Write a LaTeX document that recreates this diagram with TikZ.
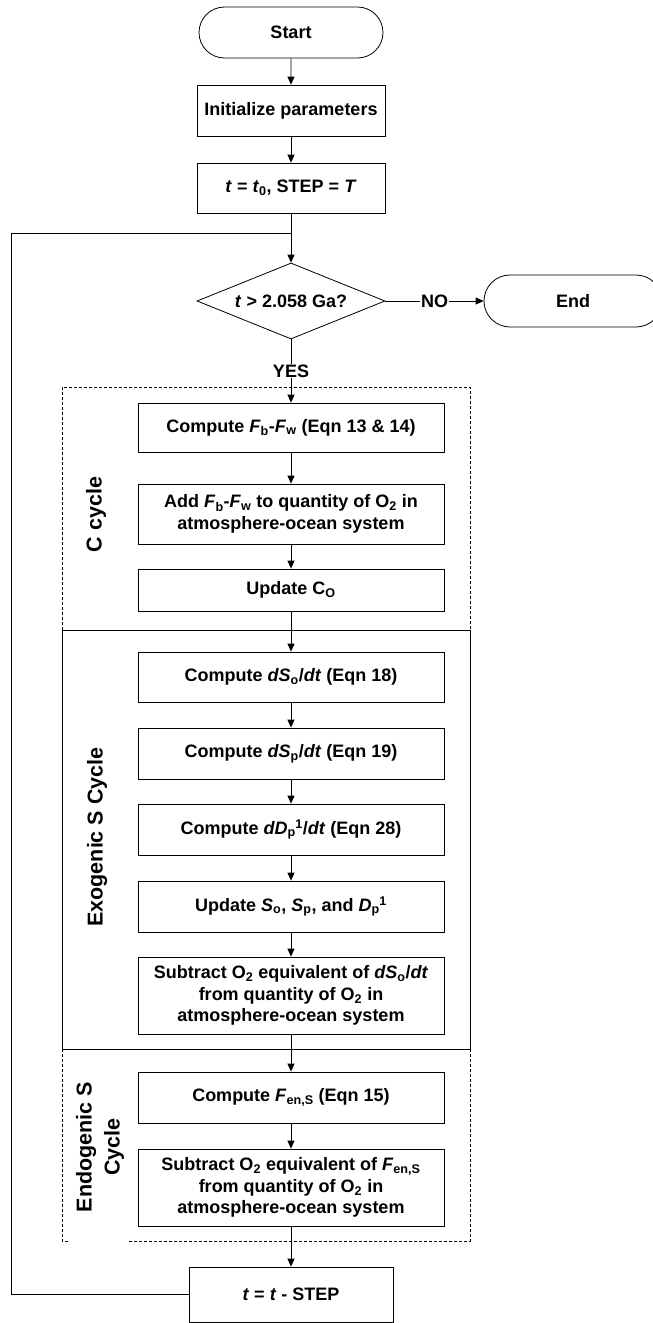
\documentclass[tikz,border=0pt]{standalone}
\usepackage{fontspec}
\setmainfont{Liberation Sans}
\usetikzlibrary{shapes.geometric,shapes.misc,arrows.meta}
\newcommand\sbs[1]{\textsubscript{#1}}
\newcommand\ital[1]{\textit{#1}}
\newcommand\subsup[2]{\textsubscript{#1}\kern-0.5pt\textsuperscript{#2}}

\tikzset{
  base/.style={draw=black, line width=0.8pt, fill=white, inner sep=2pt, align=center,
    font=\fontsize{18}{21.5}\selectfont\bfseries},
  term/.style={base, rounded rectangle, minimum width=188pt, minimum height=51pt},
  proc/.style={base, rectangle, minimum width=188pt},
  wide/.style={base, rectangle, minimum width=306pt},
  decision/.style={base, diamond, aspect=2.47, minimum width=188pt, minimum height=76pt, inner sep=0pt},
  arr/.style={line width=0.8pt, -{Triangle[length=8pt,width=7pt]}},
  conn/.style={line width=0.8pt},
  frame/.style={line width=0.7pt},
  dframe/.style={line width=0.7pt, dash pattern=on 3pt off 2pt},
  lbl/.style={fill=white, inner sep=1pt, font=\fontsize{18}{21.5}\selectfont\bfseries},
  cyc/.style={rotate=90, align=center, font=\fontsize{21.5}{28}\selectfont\bfseries},
}

\begin{document}
\begin{tikzpicture}[x=1pt, y=-1pt]
\useasboundingbox (0,0) rectangle (653,1323);

% group frames
\draw[dframe] (62,630) -- (62,387) -- (470,387) -- (470,630);
\draw[frame] (62,630) rectangle (470,1049);
\draw[dframe] (470,1049) -- (470,1241) -- (128,1241);
\draw[dframe] (62,1049) -- (62,1241) -- (68,1241);

% group labels
\node[cyc] (lc) at (96,514.5) {C cycle};
\node[cyc] (lexo) at (97,837) {Exogenic S Cycle};
\node[cyc] (lendo) at (100,1147) {Endogenic S\\Cycle};

% main flow
\node[term] (start) at (291,32.5) {Start};
\node[proc, minimum height=51pt] (init) at (291,110.5) {Initialize parameters};
\node[proc, minimum height=50pt] (tinit) at (291,188)
  {\ital{t} = \ital{t}\sbs{0}, STEP = \ital{T}};
\node[decision] (dec) at (291,301) {\ital{t} > 2.058 Ga?};
\node[term, minimum width=182pt, minimum height=52pt] (end) at (573,301) {End};

\node[wide, minimum height=49pt] (fb) at (291,427.5)
  {Compute \ital{F}\sbs{b}-\ital{F}\sbs{w} (Eqn 13 \& 14)};
\node[wide, minimum height=60pt] (add) at (291,514)
  {Add \ital{F}\sbs{b}-\ital{F}\sbs{w} to quantity of O\sbs{2} in\\atmosphere-ocean system};
\node[wide, minimum height=42pt] (co) at (291,590) {Update C\sbs{O}};

\node[wide, minimum height=50pt] (dso) at (291,677)
  {Compute \ital{dS}\sbs{o}/\ital{dt} (Eqn 18)};
\node[wide, minimum height=51pt] (dsp) at (291,753.5)
  {Compute \ital{dS}\sbs{p}/\ital{dt} (Eqn 19)};
\node[wide, minimum height=51pt] (ddp) at (291,829.5)
  {Compute \ital{dD}\subsup{p}{1}/\ital{dt} (Eqn 28)};
\node[wide, minimum height=51pt] (upd) at (291,906.5)
  {Update \ital{S}\sbs{o}, \ital{S}\sbs{p}, and \ital{D}\subsup{p}{1}};
\node[wide, minimum height=77pt] (sub1) at (291,995.5)
  {Subtract O\sbs{2} equivalent of \ital{dS}\sbs{o}/\ital{dt}\\from quantity of O\sbs{2} in\\atmosphere-ocean system};

\node[wide, minimum height=51pt] (fen) at (291,1097.5)
  {Compute \ital{F}\sbs{en,S} (Eqn 15)};
\node[wide, minimum height=77pt] (sub2) at (291,1187.5)
  {Subtract O\sbs{2} equivalent of \ital{F}\sbs{en,S}\\from quantity of O\sbs{2} in\\atmosphere-ocean system};

\node[proc, minimum width=204pt, minimum height=55pt] (tstep) at (291,1294.5)
  {\ital{t} = \ital{t} - STEP};

% connectors
\coordinate (join) at (291,233);
\coordinate (lx) at (11,0);
\draw[arr] (start) -- (init);
\draw[arr] (init) -- (tinit);
\draw[arr] (tinit) -- (dec);
\draw[arr] (dec.east) -- node[lbl] {NO} (end.west);
\draw[arr] (dec.south) -- node[lbl] {YES} (fb.north);
\draw[arr] (fb) -- (add);
\draw[arr] (add) -- (co);
\draw[arr] (co) -- (dso);
\draw[arr] (dso) -- (dsp);
\draw[arr] (dsp) -- (ddp);
\draw[arr] (ddp) -- (upd);
\draw[arr] (upd) -- (sub1);
\draw[arr] (sub1) -- (fen);
\draw[arr] (fen) -- (sub2);
\draw[arr] (sub2) -- (tstep);
\draw[conn] (tstep.west) -- (tstep.west -| lx) |- (join);
\end{tikzpicture}
\end{document}
